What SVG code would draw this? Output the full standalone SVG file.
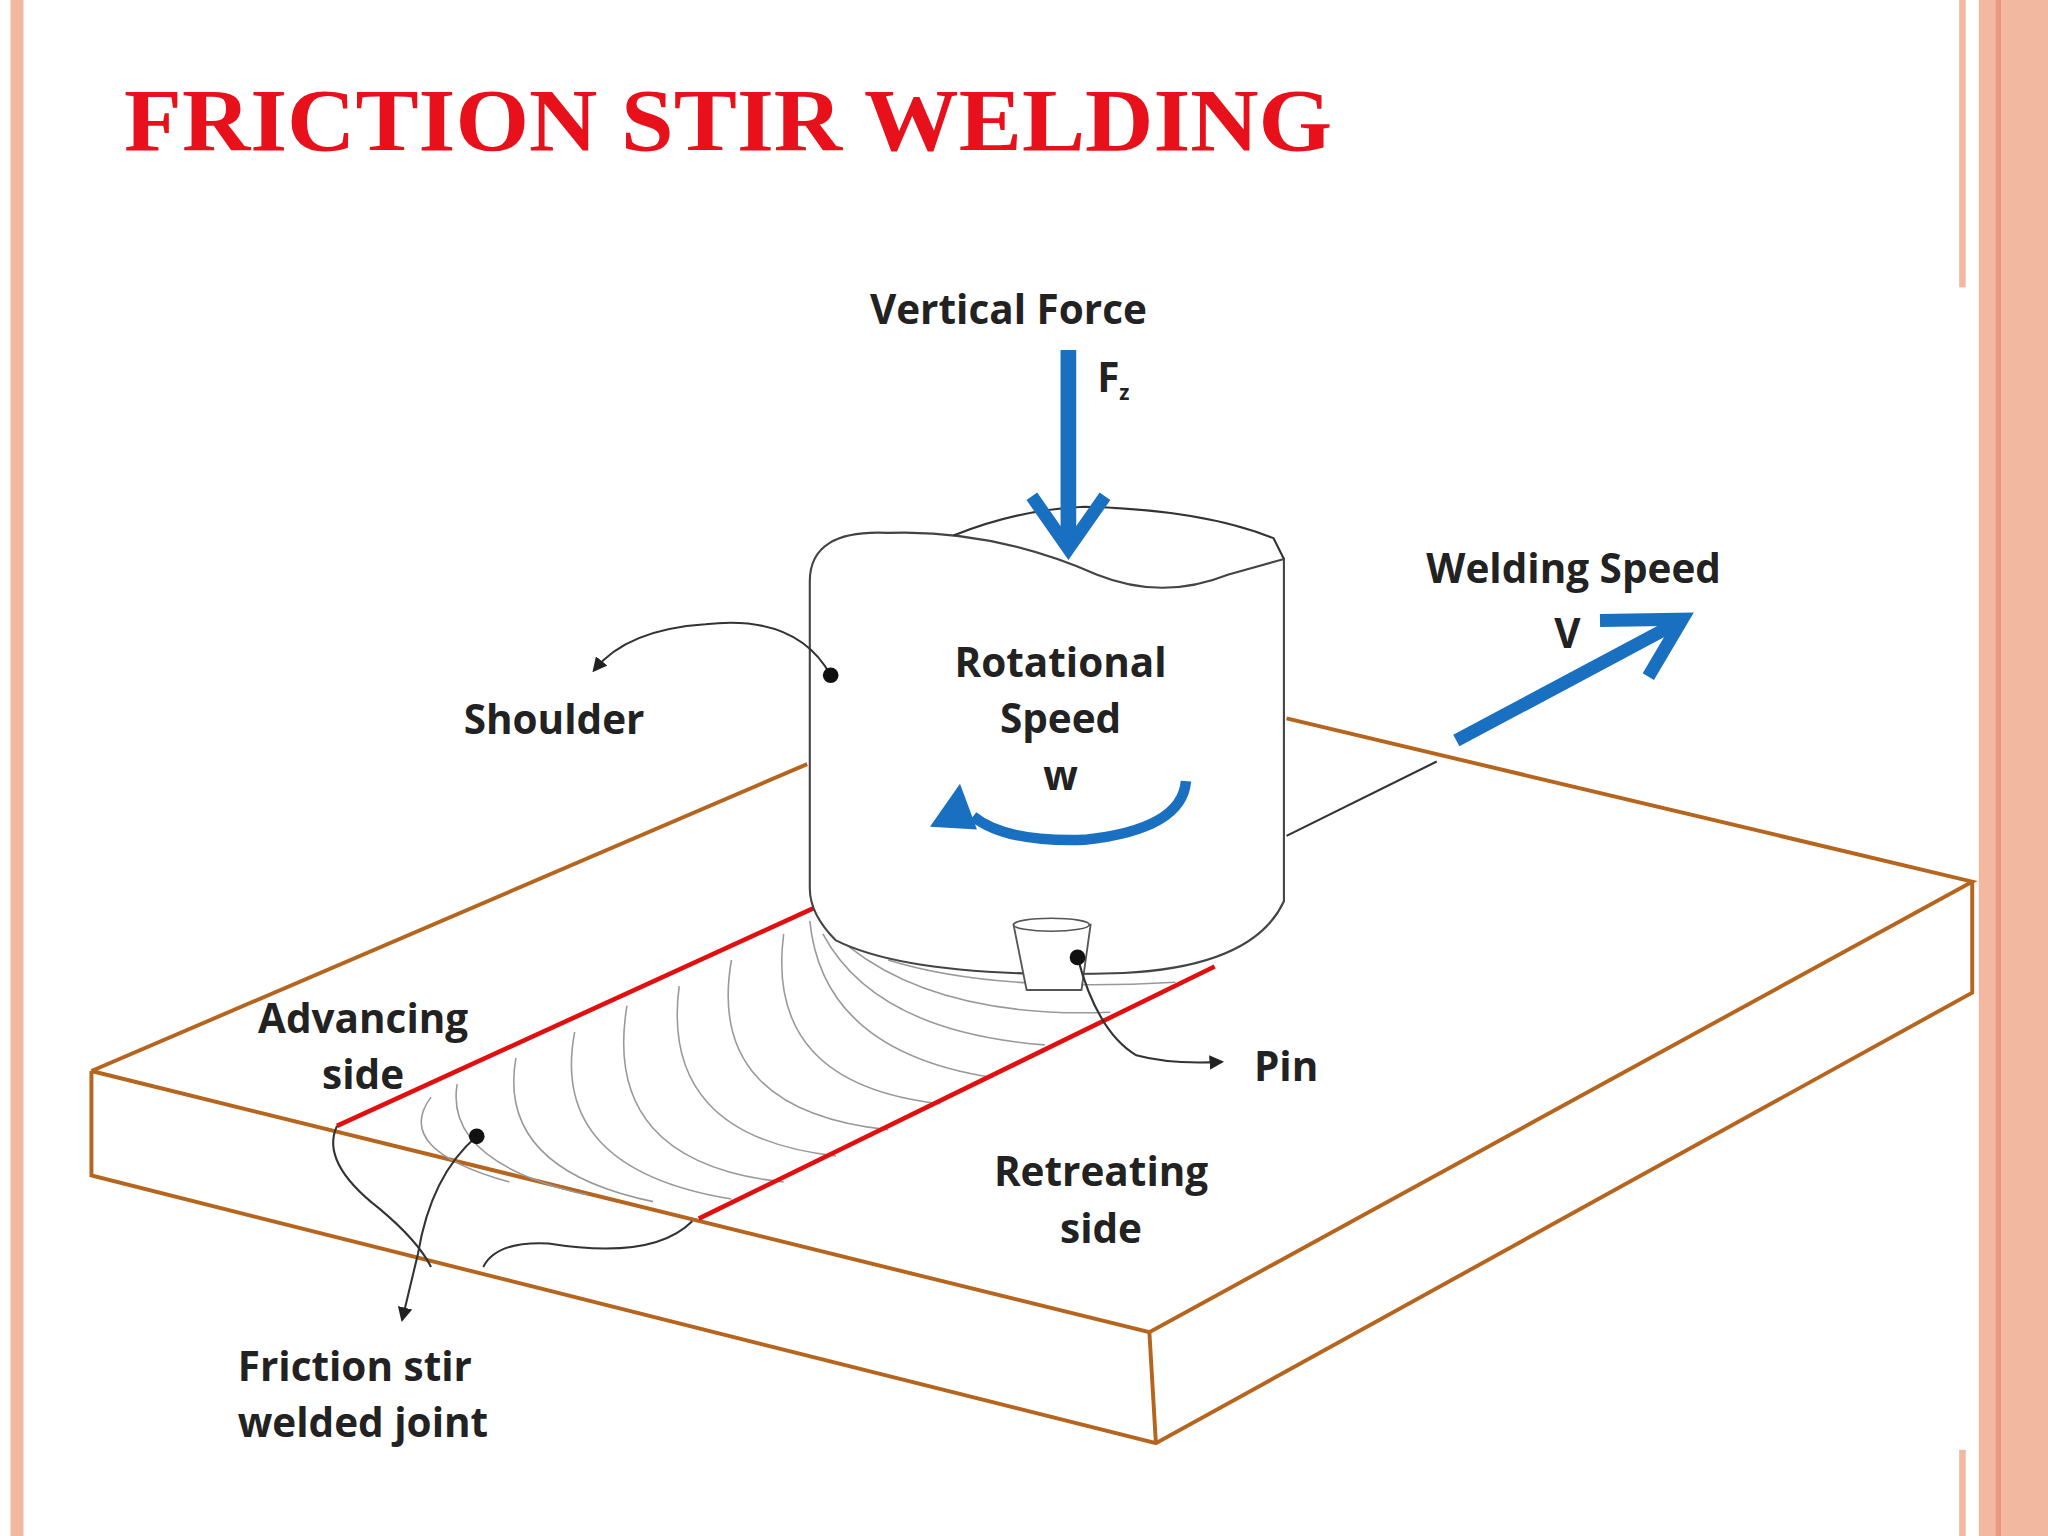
<svg xmlns="http://www.w3.org/2000/svg" width="2048" height="1536" viewBox="0 0 2048 1536">
<defs>
<style>
.lbl{font-family:"Open Sans","Liberation Sans",sans-serif;font-weight:bold;font-size:31px;fill:#222}
.ed{stroke:#b5651d;stroke-width:3;fill:none}
.ln{stroke:#333;stroke-width:1.6;fill:none}
.arc{stroke:#999;stroke-width:1.2;fill:none}
.red{stroke:#e01010;stroke-width:3.5}
.blue{stroke:#1a70c0;fill:none}
</style>
<marker id="ah" viewBox="0 0 10 10" refX="8" refY="5" markerWidth="7" markerHeight="7" orient="auto"><path d="M0,0 L10,5 L0,10 z" fill="#222"/></marker>
</defs>
<rect width="2048" height="1536" fill="#fff"/>
<g transform="scale(1.30612)">
<rect x="8" y="0" width="10" height="1176" fill="#f2b8a0"/>
<rect x="1500" y="0" width="5" height="220" fill="#f2b8a0"/>
<rect x="1500" y="1110" width="5" height="66" fill="#f2b8a0"/>
<rect x="1515" y="0" width="53" height="1176" fill="#f2b8a0"/>
<rect x="1528" y="0" width="4" height="1176" fill="#e89a80"/>
<text x="95" y="115" font-family="Liberation Serif,serif" font-weight="bold" font-size="68" fill="#e8101a" textLength="925" lengthAdjust="spacingAndGlyphs">FRICTION STIR WELDING</text>

<g id="plate">
<path class="ed" d="M70,820 L618,585 M985,550 L1510,675 L880,1020 L70,820 M70,820 L70,900 L885,1105 L1510,760 L1510,675 M880,1020 L885,1105"/>
<path class="ln" d="M985,640 L1100,583" stroke-width="1.3"/>
</g>
<g id="weld">
<g class="arc">
<path d="M330,840 Q300,880 390,905"/>
<path d="M350,830 Q340,890 450,915"/>
<path d="M395,810 Q380,895 500,920"/>
<path d="M440,790 Q420,895 560,918"/>
<path d="M480,770 Q460,890 600,905"/>
<path d="M520,755 Q505,870 640,885"/>
<path d="M560,735 Q540,850 680,865"/>
<path d="M600,715 Q585,830 720,845"/>
<path d="M620,705 Q630,805 760,825"/>
<path d="M630,715 Q670,790 800,800"/>
<path d="M650,725 Q720,780 850,775"/>
<path d="M680,735 Q760,760 900,752"/>
</g>
<line class="red" x1="258" y1="862" x2="628" y2="693"/>
<line class="red" x1="535" y1="933" x2="930" y2="740"/>
</g>
<g id="tool">
<path d="M620,445 Q620,405 680,408 Q760,405 840,440 Q890,460 940,440 L983,428 L983,690 Q960,740 860,745 Q700,750 640,720 Q620,700 620,680 Z" fill="#fff" stroke="#444" stroke-width="1.6"/>
<path class="ln" d="M730,410 Q780,390 830,388 Q920,390 975,412 L983,428"/>
<path d="M776,708 L835,708 L828,758 L786,758 Z" fill="#fff" stroke="#555" stroke-width="1.4"/>
<ellipse cx="805" cy="708" rx="29" ry="5" fill="#fff" stroke="#555" stroke-width="1.2"/>
</g>
<g id="connectors">
<line class="blue" x1="818" y1="268" x2="818" y2="418" stroke-width="12"/>
<path class="blue" d="M790,380 L818,420 L846,380" stroke-width="10"/>
<line class="blue" x1="1115" y1="567" x2="1282" y2="478" stroke-width="10"/>
<path class="blue" d="M1225,475 L1288,474 L1262,518" stroke-width="10"/>
<path class="blue" d="M908,598 Q905,635 830,643 Q770,645 745,625" stroke-width="8"/>
<path d="M712,633 L735,600 L748,635 Z" fill="#1a70c0"/>
<path class="ln" d="M636,517 Q610,470 540,478 Q480,482 455,513" marker-end="url(#ah)"/>
<circle cx="636" cy="517" r="6" fill="#111"/>
<path class="ln" d="M825,733 Q840,790 870,808 Q895,815 935,813" marker-end="url(#ah)"/>
<circle cx="825" cy="733" r="6" fill="#111"/>
<path class="ln" d="M365,870 Q330,900 320,960 L308,1010" marker-end="url(#ah)"/>
<circle cx="365" cy="870" r="6" fill="#111"/>
<path class="ln" d="M258,862 Q245,890 290,925 Q320,950 330,970"/>
<path class="ln" d="M370,970 Q380,950 420,952 Q500,965 530,935"/>
</g>
<g id="labels">
<text class="lbl" x="666" y="248">Vertical Force</text>
<text class="lbl" x="840" y="300">F<tspan font-size="16" dy="6">z</tspan></text>
<text class="lbl" x="1092" y="446">Welding Speed</text>
<text class="lbl" x="1190" y="496" font-weight="normal">V</text>
<text class="lbl" x="812" y="518" text-anchor="middle">Rotational</text>
<text class="lbl" x="812" y="561" text-anchor="middle">Speed</text>
<text class="lbl" x="812" y="605" text-anchor="middle">w</text>
<text class="lbl" x="355" y="562">Shoulder</text>
<text class="lbl" x="278" y="791" text-anchor="middle">Advancing</text>
<text class="lbl" x="278" y="834" text-anchor="middle">side</text>
<text class="lbl" x="960" y="828">Pin</text>
<text class="lbl" x="843" y="908" text-anchor="middle">Retreating</text>
<text class="lbl" x="843" y="952" text-anchor="middle">side</text>
<text class="lbl" x="182" y="1057">Friction stir</text>
<text class="lbl" x="182" y="1100">welded joint</text>
</g>
</g>
</svg>
